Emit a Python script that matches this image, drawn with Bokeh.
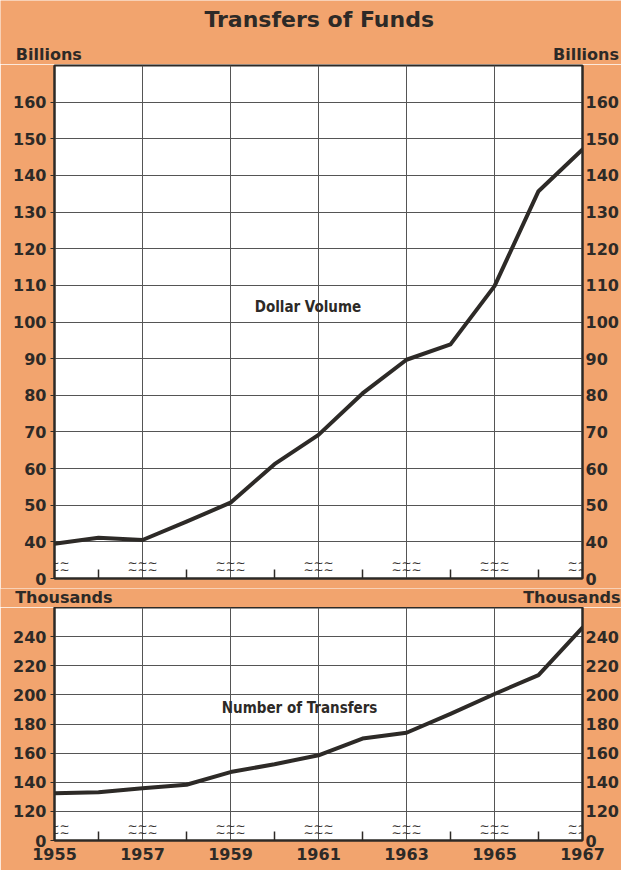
from bokeh.plotting import figure
from bokeh.models import Range1d, FixedTicker, LinearAxis, Label
from bokeh.layouts import column
from bokeh.core.properties import value
from bokeh.embed import file_html
from bokeh.resources import INLINE

# ---- data ----
years = [1955, 1956, 1957, 1958, 1959, 1960, 1961, 1962, 1963, 1964, 1965, 1966, 1967]
dollar_volume = [39.5, 41.1, 40.5, 45.5, 50.7, 61.2, 69.2, 80.5, 89.7, 93.9, 109.8, 135.7, 147.1]
num_transfers = [132.4, 133.1, 135.8, 138.3, 147.0, 152.4, 158.5, 170.0, 174.0, 187.0, 200.6, 213.6, 246.2]

year_ticks = [1955, 1957, 1959, 1961, 1963, 1965, 1967]
year_minor = [1956, 1958, 1960, 1962, 1964, 1966]
billions_ticks = [30, 40, 50, 60, 70, 80, 90, 100, 110, 120, 130, 140, 150, 160]
billions_labels = {30: "0"}
thousands_ticks = [100, 120, 140, 160, 180, 200, 220, 240]
thousands_labels = {100: "0"}

title_text = "Transfers of Funds"
top_unit = "Billions"
bottom_unit = "Thousands"
top_series = "Dollar Volume"
bottom_series = "Number of Transfers"

ORANGE = "#F2A46E"
INK = "#2d2a27"
GRID = "#555555"
FONT = "DejaVu Sans"
NARROW = "DejaVu Sans Condensed"
W = 621


def strip(height):
    s = figure(width=W, height=height, output_backend="svg", toolbar_location=None,
               title=None,
               x_range=Range1d(0, W), y_range=Range1d(0, height),
               x_axis_type=None, y_axis_type=None, frame_align=False,
               min_border=0, min_border_left=0, min_border_right=0,
               min_border_top=0, min_border_bottom=0,
               background_fill_color=ORANGE, border_fill_color=ORANGE,
               outline_line_color=None)
    return s


def make_fig(height, y0, y1, top, bottom, yticks, yover, show_years):
    p = figure(width=W, height=height, output_backend="svg", toolbar_location=None,
               title=None,
               x_range=Range1d(1955, 1967), y_range=Range1d(y0, y1), frame_align=False,
               min_border_left=54, min_border_right=38,
               min_border_top=top, min_border_bottom=bottom,
               background_fill_color="white", border_fill_color=ORANGE,
               outline_line_color=INK, outline_line_width=2, outline_line_alpha=1)
    # x axis
    xt = FixedTicker(ticks=year_ticks, minor_ticks=year_minor)
    ax = p.xaxis[0]
    ax.ticker = xt if show_years else FixedTicker(ticks=[], minor_ticks=year_minor)
    ax.axis_line_color = INK
    ax.axis_line_width = 2
    ax.major_tick_in = 0
    ax.major_tick_out = 0
    ax.minor_tick_in = 9
    ax.minor_tick_out = 0
    ax.minor_tick_line_color = INK
    ax.minor_tick_line_width = 1.5
    ax.major_label_text_font = FONT
    ax.major_label_text_font_style = "bold"
    ax.major_label_text_color = INK
    ax.major_label_text_font_size = "16px"
    ax.major_label_standoff = 7 if show_years else 0
    # y axes
    yt = FixedTicker(ticks=yticks)
    ay = p.yaxis[0]
    ay.ticker = yt
    ay.major_label_overrides = yover
    ay.axis_line_color = INK
    ay.axis_line_width = 2
    ay.major_tick_in = 0
    ay.major_tick_out = 4
    ay.major_tick_line_color = INK
    ay.minor_tick_line_color = None
    ay.major_label_standoff = 4
    ay.major_label_text_font = FONT
    ay.major_label_text_font_style = "bold"
    ay.major_label_text_font_size = "16px"
    ay.major_label_text_color = INK
    ar = LinearAxis(ticker=yt, major_label_overrides=yover,
                    axis_line_color=INK, axis_line_width=2,
                    major_tick_in=0, major_tick_out=0, minor_tick_line_color=None,
                    major_label_standoff=3, major_label_text_font=FONT,
                    major_label_text_font_style="bold", major_label_text_font_size="16px",
                    major_label_text_color=INK)
    p.add_layout(ar, "right")
    # grids
    p.xgrid.ticker = xt
    p.ygrid.ticker = yt
    for g in (p.xgrid[0], p.ygrid[0]):
        g.grid_line_color = GRID
        g.grid_line_width = 1
        g.grid_line_alpha = 1
    return p


def add_breaks(p, yval):
    ys = [yval] * len(year_ticks)
    for off in (-3.5, 3.5):
        p.text(x=year_ticks, y=ys, text=["∼∼∼"] * len(year_ticks), y_offset=off,
               text_align="center", text_baseline="middle", text_font_size="12px",
               text_font=value(FONT), text_color=INK)


def lab(p, x, y, text, align, size, font=FONT):
    p.add_layout(Label(x=x, y=y, text=text, text_align=align,
                       text_baseline="alphabetic", text_font=font, text_font_style="bold",
                       text_font_size=size, text_color=INK))


# ---- header: title and unit labels ----
head = strip(64)
lab(head, 318.7, 45, title_text, "center", "22px")
lab(head, 15.3, 10.5, top_unit, "left", "16px")
lab(head, 618.5, 10.5, top_unit, "right", "16px")

# ---- top panel: Dollar Volume ----
p1 = make_fig(524, 30, 170, 1, 10, billions_ticks, billions_labels, False)
p1.line(years, dollar_volume, line_color=INK, line_width=4, line_join="round", line_cap="round")
add_breaks(p1, 33.3)
lab(p1, 1960.76, 104.0, top_series, "center", "15px", NARROW)

# ---- middle strip: unit labels ----
mid = strip(19)
lab(mid, 14.7, 10, bottom_unit, "left", "16px")
lab(mid, 620, 10, bottom_unit, "right", "16px")

# ---- bottom panel: Number of Transfers ----
p2 = make_fig(263, 100, 260, 0, 30, thousands_ticks, thousands_labels, True)
p2.line(years, num_transfers, line_color=INK, line_width=4, line_join="round", line_cap="round")
add_breaks(p2, 107.5)
lab(p2, 1960.57, 191.0, bottom_series, "center", "15px", NARROW)

layout = column(head, p1, mid, p2, spacing=0)
open("out.html", "w").write(file_html(layout, INLINE))
